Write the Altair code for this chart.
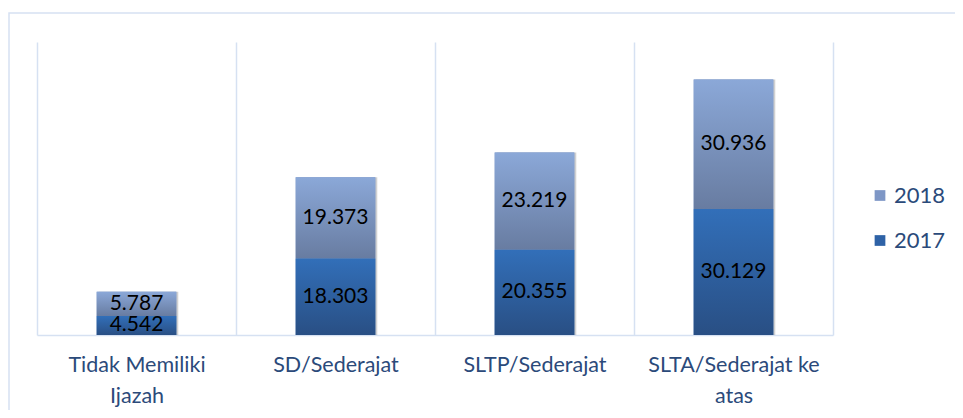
import altair as alt
import pandas as pd

categories = ["Tidak Memiliki Ijazah", "SD/Sederajat", "SLTP/Sederajat", "SLTA/Sederajat ke atas"]
label_lines = [["Tidak Memiliki", "Ijazah"], ["SD/Sederajat"], ["SLTP/Sederajat"], ["SLTA/Sederajat ke", "atas"]]
years = ["2018", "2017"]
values_2017 = [4.542, 18.303, 20.355, 30.129]
values_2018 = [5.787, 19.373, 23.219, 30.936]

rows = []
for c, v17, v18 in zip(categories, values_2017, values_2018):
    rows.append({"cat": c, "year": "2017", "value": v17, "y0": 0.0, "y1": v17,
                 "label": f"{v17:.3f}"})
    rows.append({"cat": c, "year": "2018", "value": v18, "y0": v17, "y1": v17 + v18,
                 "label": f"{v18:.3f}"})
df = pd.DataFrame(rows)
df["mid"] = (df["y0"] + df["y1"]) / 2

W, H = 796, 293
GRID = "#D6E1F2"
TEXTBLUE = "#2B4A7A"
FONT = "Lato"

expr = "datum.label"
for c, lines in zip(categories, label_lines):
    arr = "[" + ",".join(f"'{l}'" for l in lines) + "]"
    expr = f"datum.label == '{c}' ? {arr} : (" + expr + ")"

x_enc = alt.X("cat:N", sort=categories, title=None,
              scale=alt.Scale(paddingInner=0, paddingOuter=0),
              axis=alt.Axis(tickBand="extent", grid=True, gridColor=GRID, gridWidth=1.5,
                            domainColor=GRID, domainWidth=1.5, ticks=False,
                            labelAngle=0, labelFont=FONT, labelFontSize=21.5,
                            labelColor=TEXTBLUE, labelPadding=30, labelLineHeight=31,
                            labelExpr=expr, labelBaseline="middle"))
y_scale = alt.Scale(domain=[0, 70])

base = alt.Chart(df)

frame = alt.Chart(pd.DataFrame({"a": [0]})).mark_rect(
    fill=None, stroke=GRID, strokeWidth=1.5
).encode(x=alt.value(-28), x2=alt.value(1200), y=alt.value(-29), y2=alt.value(600))

shadow = base.transform_filter("datum.year == '2018'").mark_bar(
    width=alt.RelativeBandSize(0.4), color="#000000", opacity=0.18, xOffset=2, yOffset=0
).encode(x=x_enc, y=alt.Y("y1:Q", scale=y_scale, axis=None), y2=alt.value(H + 2))

legend_bars = base.mark_bar(width=alt.RelativeBandSize(0.4)).encode(
    x=x_enc,
    y=alt.Y("y0:Q", scale=y_scale, axis=None), y2="y1:Q",
    color=alt.Color("year:N", title=None,
                    scale=alt.Scale(domain=years, range=["#7E97C6", "#2E62A6"]),
                    legend=alt.Legend(orient="none", legendX=W + 36, legendY=H / 2 - 4,
                                      symbolType="square", symbolSize=115, symbolStrokeWidth=0,
                                      labelFont=FONT, labelFontSize=22, labelColor=TEXTBLUE,
                                      rowPadding=23, labelOffset=3)),
)

grad18 = alt.LinearGradient(gradient="linear", x1=0, y1=0, x2=0, y2=1,
                            stops=[alt.GradientStop(offset=0, color="#8BA8D8"),
                                   alt.GradientStop(offset=1, color="#687CA1")])
grad17 = alt.LinearGradient(gradient="linear", x1=0, y1=0, x2=0, y2=1,
                            stops=[alt.GradientStop(offset=0, color="#326FB9"),
                                   alt.GradientStop(offset=1, color="#294F84")])

bars18 = base.transform_filter("datum.year == '2018'").mark_bar(
    width=alt.RelativeBandSize(0.4), color=grad18
).encode(x=x_enc, y=alt.Y("y0:Q", scale=y_scale, axis=None), y2="y1:Q")
bars17 = base.transform_filter("datum.year == '2017'").mark_bar(
    width=alt.RelativeBandSize(0.4), color=grad17
).encode(x=x_enc, y=alt.Y("y0:Q", scale=y_scale, axis=None), y2="y1:Q")

labels = base.mark_text(font=FONT, fontSize=21, color="#000000", baseline="middle").encode(
    x=x_enc, y=alt.Y("mid:Q", scale=y_scale, axis=None), text="label:N")

chart = alt.layer(frame, shadow, legend_bars, bars18, bars17, labels).properties(
    width=W, height=H,
    autosize=alt.AutoSizeParams(type="none"),
    padding={"left": 29, "top": 34, "right": 122, "bottom": 75},
).configure_view(stroke=None)

chart.save("out.html", embed_options={"renderer": "svg", "actions": False})
